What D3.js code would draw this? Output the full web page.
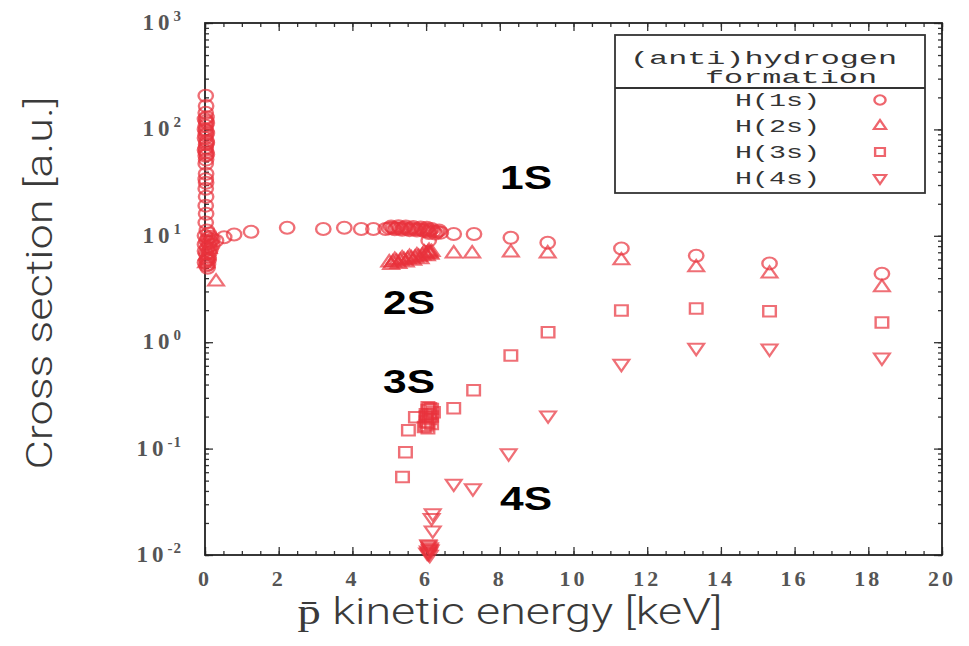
<!DOCTYPE html>
<html>
<head>
<meta charset="utf-8">
<script src="https://cdn.jsdelivr.net/npm/d3@7"></script>
<style>
    body { margin: 0; background: #fff; }
</style>
</head>
<body>
<div id="chart-area"></div>
<script>
// values: [p-bar energy (keV), cross section (a.u.)]
let h1s = [
    [0.02, 207], [0.03, 166], [0.02, 143], [0.04, 130], [0.03, 120], [0.02, 108],
    [0.03, 97], [0.02, 88], [0.04, 78], [0.03, 72], [0.02, 67], [0.03, 61],
    [0.02, 56.5], [0.03, 52], [0.02, 47.5], [0.03, 38.3], [0.02, 34], [0.03, 31.5],
    [0.02, 27.7], [0.03, 23.3], [0.02, 19.2], [0.03, 16.1], [0.02, 13.3], [0.05, 11.2],
    [0.04, 9.0], [0.06, 7.75], [0.03, 6.8], [0.05, 5.85], [0.04, 5.25],
    [0.0, 125], [0.05, 115], [0.0, 100], [0.05, 92], [0.0, 83], [0.05, 75],
    [0.0, 64], [0.05, 58],
    [0.0, 10], [0.08, 9.5], [0.1, 8.5], [0.12, 8], [0.0, 7.2], [0.09, 6.3],
    [0.15, 8.8], [0.2, 9.3], [0.0, 5.6], [0.07, 5.0], [0.1, 6.0],
    [0.1, 10.5], [0.15, 9.8], [0.2, 8.2], [0.12, 7.0], [0.05, 6.0], [0.15, 7.5],
    [0.0, 8.3], [0.08, 5.4],
    [0.3, 9.0], [0.52, 9.7], [0.79, 10.3], [1.25, 10.9], [2.23, 11.9], [3.21, 11.6],
    [3.78, 11.9], [4.24, 11.6], [4.57, 11.6], [4.9, 11.6],
    [5.0, 11.8], [5.1, 11.9], [5.2, 11.8], [5.3, 11.7], [5.4, 11.9], [5.5, 11.6],
    [5.6, 11.7], [5.7, 11.5], [5.8, 11.6], [5.9, 11.4], [6.0, 11.5], [6.05, 11.0],
    [6.1, 11.3], [6.2, 11.0], [6.3, 10.9], [6.4, 10.7],
    [5.05, 12.2], [5.15, 11.5], [5.25, 12.3], [5.35, 11.4], [5.45, 12.2], [5.55, 11.3],
    [5.65, 12.1], [5.75, 11.2], [5.85, 12.0], [5.95, 11.1], [6.02, 11.9], [6.08, 10.6],
    [6.15, 11.6], [6.25, 10.5], [6.35, 11.2],
    [6.07, 9.0], [6.75, 10.4], [7.3, 10.4], [8.3, 9.6], [9.3, 8.6], [11.3, 7.6],
    [13.33, 6.5], [15.32, 5.5], [18.37, 4.4]
];
let h2s = [
    [0.3, 3.7], [0.05, 6.5], [0.1, 7.5], [0.03, 5.5],
    [5.0, 5.6], [5.1, 5.6], [5.2, 5.7], [5.3, 5.8], [5.4, 5.9], [5.5, 6.0],
    [5.6, 6.1], [5.7, 6.2], [5.8, 6.3], [5.9, 6.5], [6.0, 6.7], [6.05, 6.9],
    [6.1, 6.8], [6.15, 7.0],
    [5.05, 5.3], [5.15, 5.9], [5.25, 5.4], [5.35, 6.1], [5.45, 5.6], [5.55, 6.3],
    [5.65, 5.8], [5.75, 6.5], [5.85, 6.0], [5.95, 6.9], [6.02, 6.4], [6.08, 7.2],
    [6.12, 6.6],
    [6.75, 6.8], [7.25, 6.8], [8.3, 6.95], [9.3, 6.8], [11.3, 5.85], [13.33, 5.03],
    [15.32, 4.4], [18.37, 3.27]
];
let h3s = [
    [5.36, 0.054], [5.44, 0.0925], [5.52, 0.149], [5.71, 0.197], [5.95, 0.16],
    [6.0, 0.18], [6.0, 0.21], [6.05, 0.23], [6.1, 0.19], [6.1, 0.24], [6.15, 0.17],
    [6.2, 0.22], [6.05, 0.155], [6.0, 0.2], [6.05, 0.175], [6.1, 0.21], [6.15, 0.2],
    [6.05, 0.245], [6.15, 0.235], [6.0, 0.165],
    [6.75, 0.24], [7.29, 0.353], [8.3, 0.75],
    [9.31, 1.24], [11.3, 1.99], [13.33, 2.07], [15.32, 1.95], [18.37, 1.53]
];
let h4s = [
    [6.18, 0.0248], [6.15, 0.0224], [6.18, 0.0171], [6.07, 0.0124], [6.1, 0.0115],
    [6.05, 0.0111], [6.07, 0.0104], [6.1, 0.0101], [6.08, 0.0108], [6.12, 0.0113],
    [6.03, 0.0106], [6.1, 0.0119], [6.06, 0.0127],
    [6.75, 0.047], [7.27, 0.0426],
    [8.24, 0.0906], [9.31, 0.206], [11.3, 0.63], [13.33, 0.89], [15.32, 0.875],
    [18.37, 0.72]
];

let xTicks = [0, 2, 4, 6, 8, 10, 12, 14, 16, 18, 20];
let yTicks = [1e-2, 1e-1, 1e0, 1e1, 1e2, 1e3];
let legendTitle = ["(anti)hydrogen", "formation"];
let legendLabels = ["H(1s)", "H(2s)", "H(3s)", "H(4s)"];
let stateLabels = ["1S", "2S", "3S", "4S"];

let red = "#e8323c";

let svg = d3.select("#chart-area")
    .append("svg")
    .attr("width", 969)
    .attr("height", 646);

svg.append("rect").attr("width", 969).attr("height", 646).attr("fill", "#fff");

let x = d3.scaleLinear().domain([0, 20]).range([205, 942]);
let y = d3.scaleLog().domain([1e-2, 1e3]).range([555, 23]);

// ticks (all inward)
let minorX = d3.range(0, 20.01, 0.5);
function tickAxis(axis, vals, size) {
    return axis.tickValues(vals).tickSize(size).tickSizeOuter(0).tickFormat("");
}
let axes = svg.append("g").attr("class", "axes");
axes.append("g").attr("transform", "translate(0,555)").call(tickAxis(d3.axisBottom(x), minorX, -4));
axes.append("g").attr("transform", "translate(0,555)").call(tickAxis(d3.axisBottom(x), xTicks, -8));
axes.append("g").attr("transform", "translate(0,23)").call(tickAxis(d3.axisTop(x), minorX, -4));
axes.append("g").attr("transform", "translate(0,23)").call(tickAxis(d3.axisTop(x), xTicks, -8));
axes.append("g").attr("transform", "translate(205,0)").call(tickAxis(d3.axisLeft(y), y.ticks(), -4));
axes.append("g").attr("transform", "translate(205,0)").call(tickAxis(d3.axisLeft(y), yTicks, -8));
axes.append("g").attr("transform", "translate(942,0)").call(tickAxis(d3.axisRight(y), y.ticks(), -4));
axes.append("g").attr("transform", "translate(942,0)").call(tickAxis(d3.axisRight(y), yTicks, -8));
axes.selectAll(".domain").remove();
axes.selectAll("line").attr("stroke", "#333").attr("stroke-width", 1.3);

svg.append("rect")
    .attr("x", 205).attr("y", 23)
    .attr("width", 942 - 205).attr("height", 555 - 23)
    .attr("fill", "none").attr("stroke", "#222").attr("stroke-width", 1.8);

// tick labels
svg.selectAll(".xlab").data(xTicks).enter().append("text")
    .attr("class", "xlab")
    .attr("x", (d) => x(d))
    .attr("y", 586)
    .attr("text-anchor", "middle")
    .attr("font-family", "Liberation Serif")
    .attr("font-weight", "bold")
    .attr("font-size", 22)
    .attr("letter-spacing", 3)
    .attr("fill", "#555")
    .text((d) => d);

let ylab = svg.selectAll(".ylab").data(yTicks).enter().append("text")
    .attr("class", "ylab")
    .attr("x", 182)
    .attr("y", (d) => y(d) + 7)
    .attr("text-anchor", "end")
    .attr("font-family", "Liberation Serif")
    .attr("font-weight", "bold")
    .attr("font-size", 23)
    .attr("letter-spacing", 4)
    .attr("fill", "#555");
ylab.append("tspan").text("10");
ylab.append("tspan")
    .attr("dy", -9)
    .attr("font-size", 15)
    .attr("letter-spacing", 1)
    .text((d) => {
        let e = Math.round(Math.log10(d));
        return e < 0 ? "-" + (-e) : e;
    });

// axis titles
svg.append("text")
    .attr("transform", "translate(52,283) rotate(-90)")
    .attr("text-anchor", "middle")
    .attr("font-family", "Roboto")
    .attr("font-weight", 300)
    .attr("font-size", 36)
    .attr("fill", "#3a3a3a")
    .attr("textLength", 373)
    .attr("lengthAdjust", "spacingAndGlyphs")
    .text("Cross section [a.u.]");

svg.append("text")
    .attr("x", 510)
    .attr("y", 624)
    .attr("text-anchor", "middle")
    .attr("font-family", "Roboto")
    .attr("font-weight", 300)
    .attr("font-size", 36)
    .attr("fill", "#3a3a3a")
    .attr("textLength", 425)
    .attr("lengthAdjust", "spacingAndGlyphs")
    .text("p\u0304 kinetic energy [keV]");

// markers
let series = [
    { data: h1s, type: d3.symbolCircle, size: 113, rot: 0 },
    { data: h2s, type: d3.symbolTriangle, size: 75, rot: 0 },
    { data: h3s, type: d3.symbolSquare, size: 110, rot: 0 },
    { data: h4s, type: d3.symbolTriangle, size: 75, rot: 180 }
];

series.forEach(function (s) {
    svg.append("g").selectAll("path").data(s.data).enter().append("path")
        .attr("d", d3.symbol().type(s.type).size(s.size))
        .attr("transform", (d) => "translate(" + x(d[0]) + "," + y(d[1]) + ") scale(1.2,1) rotate(" + s.rot + ")")
        .attr("fill", "none")
        .attr("stroke", red)
        .attr("stroke-width", 2)
        .attr("stroke-opacity", 0.7);
});

// legend
let lg = svg.append("g");
lg.append("rect")
    .attr("x", 615).attr("y", 35).attr("width", 310).attr("height", 158)
    .attr("fill", "#fff").attr("stroke", "#333").attr("stroke-width", 1.8);
lg.append("line")
    .attr("x1", 615).attr("x2", 925).attr("y1", 88).attr("y2", 88)
    .attr("stroke", "#333").attr("stroke-width", 1.8);
lg.append("text")
    .attr("x", 630).attr("y", 64)
    .attr("font-family", "Liberation Mono").attr("font-size", 18).attr("fill", "#333")
    .attr("textLength", 267).attr("lengthAdjust", "spacingAndGlyphs")
    .text(legendTitle[0]);
lg.append("text")
    .attr("x", 705).attr("y", 83)
    .attr("font-family", "Liberation Mono").attr("font-size", 18).attr("fill", "#333")
    .attr("textLength", 172).attr("lengthAdjust", "spacingAndGlyphs")
    .text(legendTitle[1]);
lg.selectAll(".ltext").data(legendLabels).enter().append("text")
    .attr("class", "ltext")
    .attr("x", 735)
    .attr("y", (d, i) => 106 + i * 26)
    .attr("font-family", "Liberation Mono").attr("font-size", 19).attr("fill", "#333")
    .attr("textLength", 85).attr("lengthAdjust", "spacingAndGlyphs")
    .text((d) => d);
lg.selectAll(".lsym").data(series).enter().append("path")
    .attr("class", "lsym")
    .attr("d", (s) => d3.symbol().type(s.type).size(s.size * 0.6)())
    .attr("transform", (s, i) => "translate(880," + (100 + i * 26) + ") scale(1.2,1) rotate(" + s.rot + ")")
    .attr("fill", "none")
    .attr("stroke", red)
    .attr("stroke-width", 2)
    .attr("stroke-opacity", 0.75);

// state annotations
let statePos = [[500, 189], [383, 314], [383, 393], [500, 510]];
svg.selectAll(".state").data(stateLabels).enter().append("text")
    .attr("class", "state")
    .attr("x", (d, i) => statePos[i][0])
    .attr("y", (d, i) => statePos[i][1])
    .attr("font-family", "Liberation Sans")
    .attr("font-weight", "bold")
    .attr("font-size", 33)
    .attr("fill", "#000")
    .attr("textLength", 52)
    .attr("lengthAdjust", "spacingAndGlyphs")
    .text((d) => d);
</script>
</body>
</html>
